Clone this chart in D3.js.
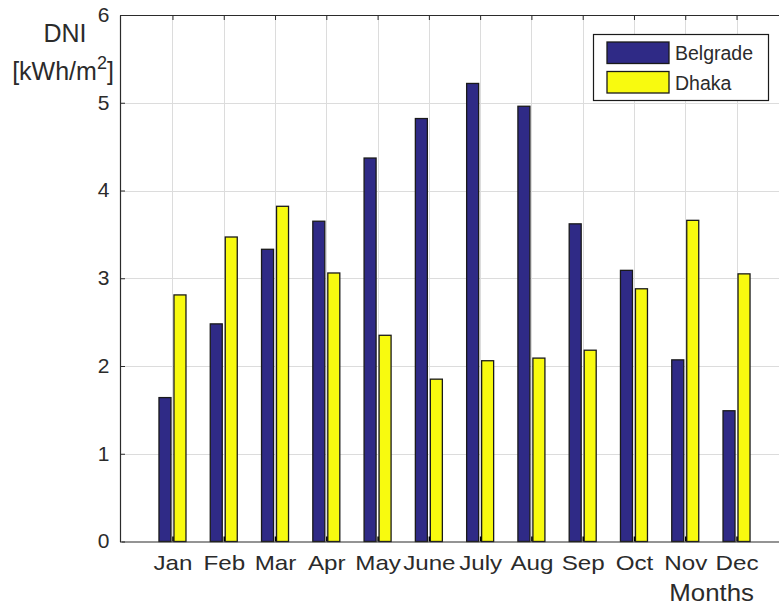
<!DOCTYPE html>
<html>
<head>
<meta charset="utf-8">
<script src="https://cdn.jsdelivr.net/npm/d3@7"></script>
<style>
  html, body { margin: 0; padding: 0; background: #fff; }
  svg { display: block; font-family: "Liberation Sans", Arial, Helvetica, sans-serif; }
</style>
</head>
<body>
<svg id="chart" width="779" height="608"></svg>
<script>
// Monthly direct normal irradiance, kWh/m2 per day
const months = ["Jan", "Feb", "Mar", "Apr", "May", "June", "July", "Aug", "Sep", "Oct", "Nov", "Dec"];
const belgrade = [1.64, 2.48, 3.33, 3.65, 4.37, 4.82, 5.22, 4.96, 3.62, 3.09, 2.07, 1.49];
const dhaka = [2.81, 3.47, 3.82, 3.06, 2.35, 1.85, 2.06, 2.09, 2.18, 2.88, 3.66, 3.05];
const seriesNames = ["Belgrade", "Dhaka"];
const seriesColors = ["#2f2a86", "#f8fa0f"];
const yTicks = [0, 1, 2, 3, 4, 5, 6];

const svg = d3.select("#chart");
const plotLeft = 120, plotTop = 15, plotBottom = 541.5, plotRight = 788;
const textColor = "#2b2b2b";

// Category positions 1..12 on a numeric axis running 0..13
const x = d3.scaleLinear().domain([0, 13]).range([121.2, 787.8]);
const y = d3.scaleLinear().domain([0, 6]).range([plotBottom, plotTop]);
const sub = d3.scaleBand().domain(seriesNames).range([-13.5, 13.5]).paddingInner(0.2);

// plot background
svg.append("rect").attr("x", plotLeft).attr("y", plotTop)
  .attr("width", plotRight - plotLeft).attr("height", plotBottom - plotTop).attr("fill", "#fff");

// grid lines
const grid = svg.append("g").attr("stroke", "#dcdcdc").attr("stroke-width", 1);
grid.selectAll("line.gy").data(yTicks.slice(1, -1)).join("line")
  .attr("x1", plotLeft).attr("x2", plotRight)
  .attr("y1", d => Math.round(y(d)) + 0.5).attr("y2", d => Math.round(y(d)) + 0.5);
grid.selectAll("line.gx").data(months).join("line")
  .attr("x1", (d, i) => Math.round(x(i + 1)) + 0.5).attr("x2", (d, i) => Math.round(x(i + 1)) + 0.5)
  .attr("y1", plotTop).attr("y2", plotBottom);

// bars
const rows = months.map((m, i) => ({ m, i, values: [belgrade[i], dhaka[i]] }));
const groups = svg.append("g").selectAll("g").data(rows).join("g")
  .attr("transform", d => `translate(${x(d.i + 1)},0)`);
groups.selectAll("rect").data(d => d.values.map((v, k) => ({ v, k })))
  .join("rect")
  .attr("x", d => sub(seriesNames[d.k]))
  .attr("width", sub.bandwidth())
  .attr("y", d => y(d.v))
  .attr("height", d => y(0) - y(d.v))
  .attr("fill", d => seriesColors[d.k])
  .attr("stroke", "#1a1a1a")
  .attr("stroke-width", 1.3);

// axes: ticks point inward, as on a boxed plot
const yAxis = d3.axisLeft(y).tickValues(yTicks).tickFormat(d3.format("d"))
  .tickSizeInner(-5).tickSizeOuter(0).tickPadding(10);
const gy = svg.append("g").attr("transform", `translate(${plotLeft},0)`).call(yAxis);
gy.select(".domain").attr("stroke", textColor).attr("stroke-width", 1.2);
gy.selectAll(".tick line").attr("stroke", textColor);
gy.selectAll(".tick text").attr("font-size", 20).attr("fill", textColor).attr("font-family", null)
  .attr("transform", "scale(1.05,1)");

const xAxis = d3.axisBottom(x).tickValues(d3.range(1, 13)).tickFormat(d => months[d - 1])
  .tickSizeInner(-5).tickSizeOuter(0).tickPadding(14);
const gx = svg.append("g").attr("transform", `translate(0,${plotBottom})`).call(xAxis);
gx.select(".domain").attr("stroke", textColor).attr("stroke-width", 1.2);
gx.selectAll(".tick line").attr("stroke", "#000").attr("stroke-width", 1.5);
gx.selectAll(".tick text").attr("font-size", 20.5).attr("fill", textColor).attr("font-family", null)
  .attr("transform", "scale(1.18,1)");

const xTop = d3.axisTop(x).tickValues(d3.range(1, 13)).tickFormat("").tickSizeInner(-5).tickSizeOuter(0);
const gt = svg.append("g").attr("transform", `translate(0,${plotTop})`).call(xTop);
gt.select(".domain").attr("stroke", textColor).attr("stroke-width", 1.2);
gt.selectAll(".tick line").attr("stroke", textColor);

// axis titles
svg.append("text").attr("x", 65).attr("y", 42).attr("text-anchor", "middle")
  .attr("font-size", 25).attr("fill", textColor).text("DNI");
const unit = svg.append("text").attr("x", 63).attr("y", 80).attr("text-anchor", "middle")
  .attr("font-size", 25).attr("fill", textColor);
unit.append("tspan").text("[kWh/m");
unit.append("tspan").attr("dy", -11).attr("font-size", 18).text("2");
unit.append("tspan").attr("dy", 11).text("]");

svg.append("text").attr("transform", "translate(754,601) scale(1.1,1)").attr("text-anchor", "end")
  .attr("font-size", 23.5).attr("fill", textColor).text("Months");

// legend
const lg = svg.append("g");
lg.append("rect").attr("x", 593.5).attr("y", 34.5).attr("width", 175).attr("height", 66)
  .attr("fill", "#fff").attr("stroke", "#1a1a1a").attr("stroke-width", 1.2);
seriesNames.forEach((name, k) => {
  const yy = 42 + k * 29.5;
  lg.append("rect").attr("x", 607).attr("y", yy).attr("width", 62).attr("height", 21.5)
    .attr("fill", seriesColors[k]).attr("stroke", "#1a1a1a").attr("stroke-width", 1.3);
  lg.append("text").attr("x", 675).attr("y", yy + 18).attr("font-size", 19.5)
    .attr("fill", textColor).text(name);
});
</script>
</body>
</html>
